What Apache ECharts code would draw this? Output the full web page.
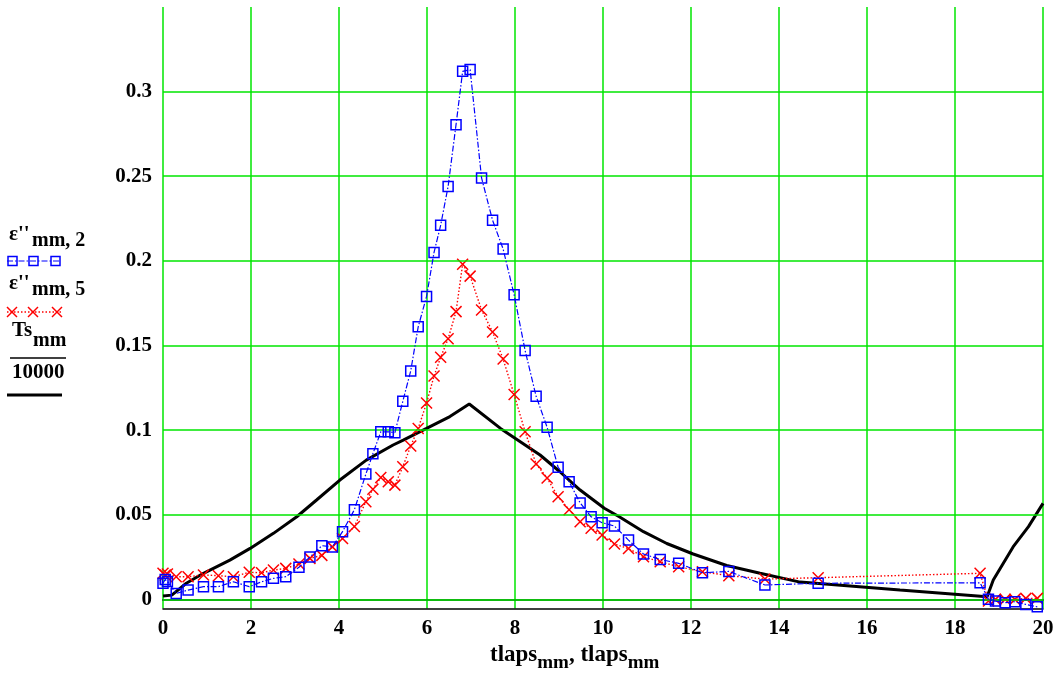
<!DOCTYPE html>
<html>
<head>
<meta charset="utf-8">
<script src="https://cdn.jsdelivr.net/npm/echarts@6/dist/echarts.min.js"></script>
<style>
html,body{margin:0;padding:0;background:#fff;}
#chart{width:1060px;height:679px;}
</style>
</head>
<body>
<div id="chart"></div>
<script>
// ---- data ----
const tlaps = [0, 0.05, 0.1, 0.3, 0.57, 0.92, 1.26, 1.60, 1.96, 2.24, 2.51, 2.79, 3.09, 3.34, 3.61, 3.85,
  4.08, 4.35, 4.61, 4.77, 4.95, 5.12, 5.27, 5.45, 5.63, 5.80, 5.99, 6.16, 6.31, 6.48, 6.66, 6.81, 6.98,
  7.24, 7.49, 7.73, 7.98, 8.23, 8.48, 8.73, 8.98, 9.23, 9.48, 9.73, 9.98, 10.26, 10.58, 10.92, 11.30,
  11.72, 12.26, 12.86, 13.68, 14.89, 18.57, 18.76, 18.92, 19.14, 19.36, 19.61, 19.87];
const eps2 = [0.0095, 0.0118, 0.0105, 0.0035, 0.0055, 0.0075, 0.0075, 0.0104, 0.0075, 0.0104, 0.0124, 0.0134,
  0.019, 0.025, 0.0317, 0.031, 0.040, 0.053, 0.074, 0.086, 0.099, 0.099, 0.0985, 0.117, 0.135, 0.161, 0.179,
  0.205, 0.221, 0.244, 0.2805, 0.312, 0.313, 0.249, 0.224, 0.207, 0.180, 0.147, 0.120, 0.1017, 0.078, 0.0695,
  0.057, 0.0488, 0.0453, 0.0433, 0.035, 0.0268, 0.0236, 0.0213, 0.0157, 0.0165, 0.0085, 0.0095, 0.0098,
  0.0, -0.001, -0.002, -0.0014, -0.003, -0.0044];
const eps5 = [0.0154, 0.0144, 0.015, 0.0134, 0.0134, 0.0144, 0.014, 0.0134, 0.016, 0.0157, 0.0173, 0.0183,
  0.0209, 0.0242, 0.026, 0.031, 0.036, 0.043, 0.0577, 0.0651, 0.072, 0.0695, 0.0675, 0.0784, 0.0906, 0.101,
  0.116, 0.132, 0.143, 0.154, 0.170, 0.198, 0.191, 0.171, 0.158, 0.142, 0.121, 0.099, 0.080, 0.0717, 0.0606,
  0.053, 0.0459, 0.042, 0.038, 0.0327, 0.030, 0.0252, 0.0222, 0.0193, 0.0163, 0.014, 0.012, 0.0128, 0.0154,
  -0.001, 0.0, 0.0, 0.0, 0.0006, 0.0006];
const tsT = [0, 0.2, 0.53, 0.92, 1.52, 1.98, 2.51, 3.04, 3.49, 4.02, 4.62, 5.23, 5.46, 5.99, 6.52, 6.96,
  7.67, 8.57, 9.02, 9.48, 10.03, 10.37, 10.92, 11.45, 12.05, 12.81, 13.57, 14.48, 16.75, 18.73, 18.87,
  19.32, 19.67, 20];
const tsV = [0.002, 0.0025, 0.0095, 0.0154, 0.0232, 0.0301, 0.039, 0.0488, 0.0587, 0.0705, 0.0823, 0.0912,
  0.0941, 0.101, 0.108, 0.1154, 0.101, 0.0853, 0.0754, 0.0646, 0.0538, 0.0488, 0.040, 0.033, 0.0268, 0.020,
  0.0154, 0.0102, 0.0055, 0.0015, 0.0114, 0.031, 0.043, 0.0567];
const xTicks = [0, 2, 4, 6, 8, 10, 12, 14, 16, 18, 20];
const yTicks = [0, 0.05, 0.1, 0.15, 0.2, 0.25, 0.3];

// ---- chart ----
const FONT = 'Liberation Serif';
const GREEN = '#00e600';
const pairs = (xs, ys) => xs.map((x, i) => [x, ys[i]]);
const xMark = 'path://M0,0L10,10M10,0L0,10';
const txt = (left, top, text, size) => ({type: 'text', left, top,
  style: {text, font: 'bold ' + size + 'px ' + FONT, fill: '#000'}});

const chart = echarts.init(document.getElementById('chart'), null, {renderer: 'canvas'});
const option = {
  backgroundColor: '#fff',
  animation: false,
  grid: {left: 163, right: 17, top: 7, bottom: 70.5},
  xAxis: [{
    type: 'value', min: xTicks[0], max: xTicks[xTicks.length - 1], interval: 2,
    axisLine: {show: true, onZero: false, lineStyle: {color: '#000', width: 1.5}},
    axisTick: {show: false},
    axisLabel: {margin: 10, color: '#000', fontFamily: FONT, fontWeight: 'bold', fontSize: 21},
    splitLine: {show: true, showMinLine: true, showMaxLine: true, lineStyle: {color: GREEN, width: 1.5}}
  }, {
    type: 'value', position: 'top', min: 0, max: 20,
    axisLine: {show: true, lineStyle: {color: '#000', width: 1.5}},
    axisTick: {show: false}, axisLabel: {show: false}, splitLine: {show: false}
  }],
  yAxis: {
    type: 'value', min: -0.0054, max: 0.35,
    axisLine: {show: false}, axisTick: {show: false}, splitLine: {show: false},
    axisLabel: {customValues: yTicks, margin: 11, color: '#000', fontFamily: FONT, fontWeight: 'bold', fontSize: 21,
      formatter: v => String(+v.toFixed(4))}
  },
  series: [
    {
      type: 'line', z: 1, data: [], silent: true,
      markLine: {
        silent: true, symbol: 'none', animation: false,
        label: {show: false},
        lineStyle: {color: GREEN, width: 1.5, type: 'solid'},
        data: yTicks.map(v => ({yAxis: v}))
      }
    },
    {
      name: 'Ts', type: 'line', z: 3, data: pairs(tsT, tsV), showSymbol: false, symbol: 'none',
      lineStyle: {color: '#000', width: 3}
    },
    {
      name: 'eps5', type: 'line', z: 4, data: pairs(tlaps, eps5),
      symbol: xMark, symbolSize: 11,
      itemStyle: {color: 'rgba(0,0,0,0)', borderColor: '#ff0000', borderWidth: 1.5},
      lineStyle: {color: '#ff0000', width: 1.4, type: [1.5, 2]}
    },
    {
      name: 'eps2', type: 'line', z: 5, data: pairs(tlaps, eps2),
      symbol: 'rect', symbolSize: 10,
      itemStyle: {color: 'rgba(0,0,0,0)', borderColor: '#0000ff', borderWidth: 1.5},
      lineStyle: {color: '#0000ff', width: 1.2, type: [6, 2, 1.5, 2]}
    }
  ],
  graphic: [
    // axis name
    {type: 'text', left: 490, top: 644, style: {
      text: '{a|tlaps}{b|mm}{a|, tlaps}{b|mm}',
      rich: {
        a: {fontFamily: FONT, fontWeight: 'bold', fontSize: 23, fill: '#000'},
        b: {fontFamily: FONT, fontWeight: 'bold', fontSize: 19, fill: '#000', padding: [15, 0, 0, 0]}
      }
    }},
    // legend labels
    txt(9, 224, "ε''", 21),
    txt(32, 231, 'mm, 2', 20),
    txt(9, 273, "ε''", 21),
    txt(32, 280, 'mm, 5', 20),
    txt(12, 320, 'Ts', 21),
    txt(33, 331, 'mm', 20),
    {type: 'line', shape: {x1: 10, y1: 358, x2: 66, y2: 358}, style: {stroke: '#000', lineWidth: 1.5}},
    txt(12, 362, '10000', 21),
    // legend samples
    {type: 'line', shape: {x1: 7, y1: 261, x2: 61, y2: 261}, style: {stroke: '#0000ff', lineWidth: 1.2, lineDash: [6, 2, 1.5, 2]}},
    {type: 'rect', shape: {x: 8, y: 256.5, width: 9, height: 9}, style: {fill: 'none', stroke: '#0000ff', lineWidth: 1.5}},
    {type: 'rect', shape: {x: 29, y: 256.5, width: 9, height: 9}, style: {fill: 'none', stroke: '#0000ff', lineWidth: 1.5}},
    {type: 'rect', shape: {x: 51, y: 256.5, width: 9, height: 9}, style: {fill: 'none', stroke: '#0000ff', lineWidth: 1.5}},
    {type: 'line', shape: {x1: 7, y1: 312, x2: 61, y2: 312}, style: {stroke: '#ff0000', lineWidth: 1.4, lineDash: [1.5, 2]}},
    {type: 'polyline', shape: {points: [[7, 307], [17, 317]]}, style: {stroke: '#ff0000', lineWidth: 1.5}},
    {type: 'polyline', shape: {points: [[7, 317], [17, 307]]}, style: {stroke: '#ff0000', lineWidth: 1.5}},
    {type: 'polyline', shape: {points: [[28, 307], [38, 317]]}, style: {stroke: '#ff0000', lineWidth: 1.5}},
    {type: 'polyline', shape: {points: [[28, 317], [38, 307]]}, style: {stroke: '#ff0000', lineWidth: 1.5}},
    {type: 'polyline', shape: {points: [[52, 307], [62, 317]]}, style: {stroke: '#ff0000', lineWidth: 1.5}},
    {type: 'polyline', shape: {points: [[52, 317], [62, 307]]}, style: {stroke: '#ff0000', lineWidth: 1.5}},
    {type: 'line', shape: {x1: 7, y1: 395, x2: 62, y2: 395}, style: {stroke: '#000', lineWidth: 3}}
  ]
};
chart.setOption(option);
</script>
</body>
</html>
